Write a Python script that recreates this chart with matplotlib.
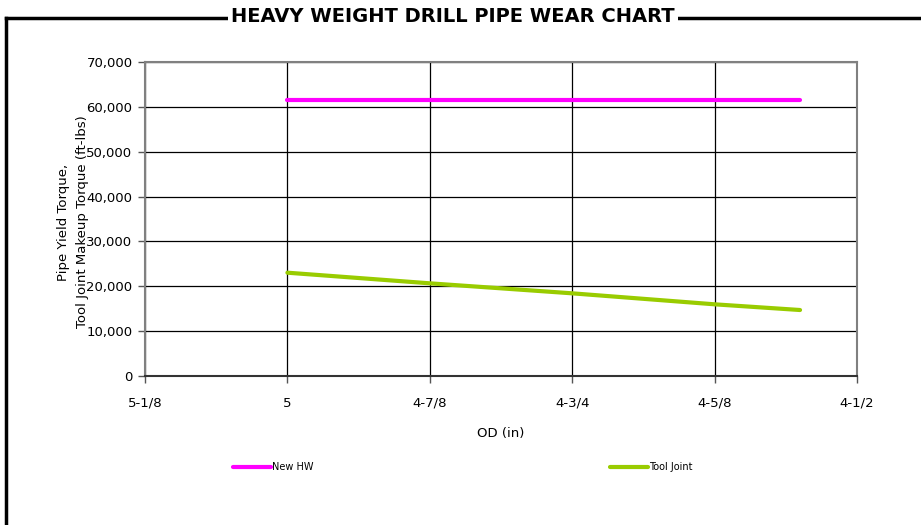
import numpy as np
import matplotlib.pyplot as plt
from matplotlib.lines import Line2D
from matplotlib.ticker import FuncFormatter

# datos
od = [5.0, 4.875, 4.75, 4.625, 4.55]
new_hw = [61500, 61500, 61500, 61500, 61500]
tool_joint = [23030, 20660, 18430, 15980, 14710]

x_ticks = [5.125, 5.0, 4.875, 4.75, 4.625, 4.5]
x_labels = ["5-1/8", "5", "4-7/8", "4-3/4", "4-5/8", "4-1/2"]
y_ticks = [0, 10000, 20000, 30000, 40000, 50000, 60000, 70000]

fig = plt.figure(figsize=(9.21, 5.25), dpi=100)
ax = fig.add_axes([145/921, 1 - 376/525, (857-145)/921, (376-62)/525])

l1, = ax.plot(od, new_hw, color="#FF00FF", lw=3, solid_capstyle="round", zorder=3)
l2, = ax.plot(od, tool_joint, color="#99CC00", lw=3, solid_capstyle="round", zorder=3)

ax.set_xlim(5.125, 4.5)
ax.set_ylim(0, 70000)
ax.set_xticks(x_ticks)
ax.set_xticklabels(x_labels)
ax.set_yticks(y_ticks)
ax.yaxis.set_major_formatter(FuncFormatter(lambda v, p: f"{int(v):,}"))
ax.tick_params(labelsize=9.5, length=5, width=1, color="#555555", pad=4)
ax.tick_params(axis="x", pad=10)
ax.grid(True, color="black", lw=0.9)
for s in ax.spines.values():
    s.set_color("#808080")
    s.set_linewidth(1.5)
ax.spines["bottom"].set_color("#333333")

ax.set_xlabel("OD (in)", fontsize=9.5, labelpad=12)
fig.text(73/921, 1 - 222/525, "Pipe Yield Torque,\nTool Joint Makeup Torque (ft-lbs)",
         rotation=90, ha="center", va="center", multialignment="center", fontsize=9.5,
         linespacing=1.6)

leg = fig.legend([l1, l2], ["New HW", "Tool Joint"], loc="center left",
                 bbox_to_anchor=(224/921, 1 - 467/525), ncol=2, frameon=False,
                 fontsize=7, handlelength=3.9, handletextpad=0.15, columnspacing=30.5)

# marco exterior (solo arriba e izquierda)
fig.add_artist(Line2D([6/921, 1], [1 - 18/525, 1 - 18/525], color="black", lw=2.5))
fig.add_artist(Line2D([6/921, 6/921], [0, 1 - 18/525], color="black", lw=2.5))
fig.text(453/921, 1 - 17/525, "HEAVY WEIGHT DRILL PIPE WEAR CHART", ha="center", va="center",
         fontsize=14, fontweight="bold",
         bbox=dict(facecolor="white", edgecolor="none", pad=2))

fig.savefig("out.png", dpi=100)
